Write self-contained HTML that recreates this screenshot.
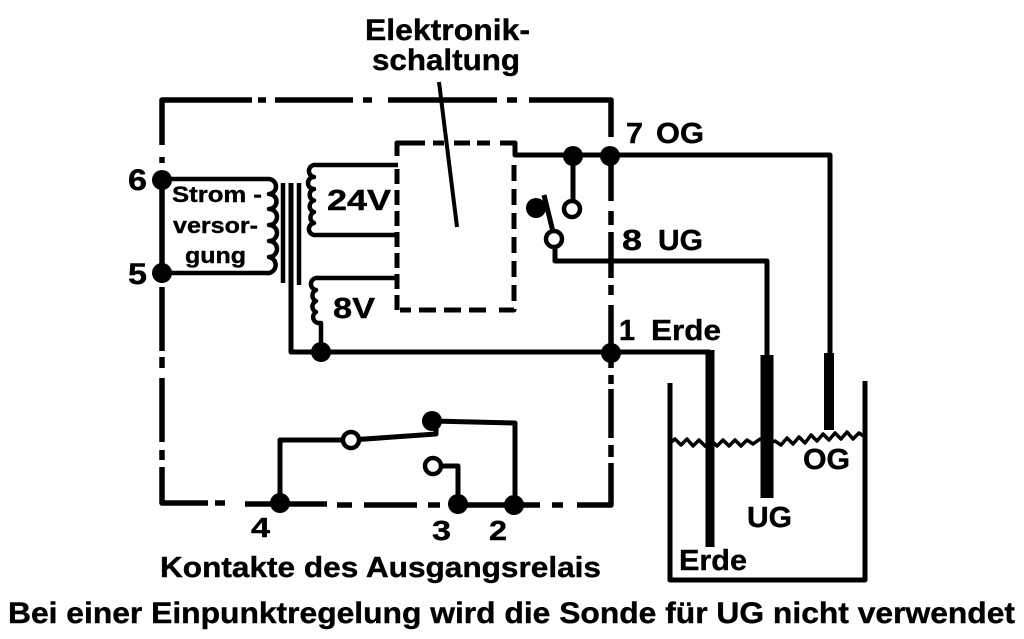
<!DOCTYPE html>
<html lang="de">
<head>
<meta charset="utf-8">
<title>Elektronikschaltung</title>
<style>
html,body{margin:0;padding:0;background:#fff;width:1024px;height:639px;overflow:hidden}
svg{display:block}
text{font-family:"Liberation Sans",sans-serif;font-weight:bold;fill:#000;stroke:#000;stroke-width:.4px}
</style>
</head>
<body>
<svg width="1024" height="639" viewBox="0 0 1024 639" xmlns="http://www.w3.org/2000/svg">
<g fill="none" stroke="#000" stroke-linecap="butt" stroke-linejoin="round">
  <!-- outer dash-dot box -->
  <g stroke-width="5.5">
    <path d="M162,145 V100 H252"/><path d="M258,100 H266"/><path d="M275,100 H353"/><path d="M363,100 H372"/>
    <path d="M388,100 H497"/><path d="M507,100 H517"/><path d="M529,100 H611 V137"/>
    <path d="M611,156 V201"/><path d="M611,211 V225"/><path d="M611,232 V278"/><path d="M611,285 V295"/><path d="M611,305 V368"/>
    <path d="M611,375 V384"/><path d="M611,389 V438"/><path d="M611,445 V457"/><path d="M611,463 V505 H577"/>
    <path d="M563,505 H552"/><path d="M540,505 H458"/><path d="M440,505 H428"/><path d="M417,505 H364"/><path d="M352,505 H337"/><path d="M327,504 H245"/><path d="M225,503 H215"/><path d="M208,503 H162 V467"/>
    <path d="M162,460 V450"/><path d="M162,442 V378"/><path d="M162,368 V357"/><path d="M162,351 V287"/>
    <path d="M162,163 V157"/>
    <path d="M162,180 V273"/>
  </g>
  <!-- pointer -->
  <path d="M439,82 L457,227" stroke-width="4"/>
  <!-- primary coil -->
  <path d="M162,179 H268 a7,7 0 0 1 1,15 a7,7 0 0 1 0,15 a7,7 0 0 1 0,16 a7,7 0 0 1 0,16 a7,7 0 0 1 0,16 a7,7 0 0 1 -3,16 H162" stroke-width="4.5"/>
  <!-- core -->
  <path d="M283,183 V283" stroke-width="4.5"/>
  <path d="M291,183 V352 H611" stroke-width="5"/>
  <path d="M299,183 V285" stroke-width="4.5"/>
  <!-- 24V coil -->
  <path d="M398,165 H316 a6,6 0 0 0 -2,12 a6,6 0 0 0 0,12 a6,6 0 0 0 0,11.500 a6,6 0 0 0 0,11.500 a6,6 0 0 0 0,11 a6,6 0 0 0 2,12 H398" stroke-width="4.500"/>
  <path d="M397,278 H318 a6,6 0 0 0 -2,12 a6,6 0 0 0 0,11 a6,6 0 0 0 0,11 a6,6 0 0 0 2,11 H321 V352" stroke-width="4.500"/>
  <!-- dashed electronics box -->
  <path d="M397,156 V143 H425 M433,143 H444 M454,143 H470 M477,143 H490 M500,143 H515 V155 H830 V353" stroke-width="5"/>
  <path d="M514,165 V310 H495" stroke-width="5" stroke-dasharray="16,8"/>
  <path d="M486,310 H400" stroke-width="5" stroke-dasharray="17,8"/>
  <path d="M397,310 V165" stroke-width="5" stroke-dasharray="15,6"/>
  <!-- changeover contact -->
  <path d="M573,156 V202" stroke-width="5"/>
  <path d="M544,195 L555,240 V261 H767 V355" stroke-width="5"/>
  <!-- Erde -->
  <path d="M611,352 H710" stroke-width="5"/>
  <path d="M710,350 V547" stroke-width="9"/>
  <!-- probes -->
  <path d="M767,355 V498" stroke-width="13"/>
  <path d="M829,353 V430" stroke-width="10"/>
  <!-- tank -->
  <path d="M670,383 V580 H865 V381" stroke-width="5"/>
  <polyline points="670,443 675,439 681,445 687,439 693,446 699,440 705,446 711,440 717,446 723,440 729,446 735,440 741,446 747,440 753,444 760,439 767,444 775,441 781,445 787,438 793,444 799,437 805,443 811,435 817,441 823,434 829,440 835,433 841,439 847,432 853,439 859,433 865,437" stroke-width="3.5"/>
  <!-- relay -->
  <path d="M280,503 V440 H351 L436,434 V421" stroke-width="5"/>
  <path d="M432,421 L515,423 V505" stroke-width="5"/>
  <path d="M433,466 H458 V504" stroke-width="5"/>
</g>
<!-- filled nodes -->
<g fill="#000">
  <circle cx="162" cy="180" r="10"/><circle cx="162" cy="273" r="10"/>
  <circle cx="321" cy="352" r="10"/><circle cx="611" cy="353" r="10"/>
  <circle cx="573" cy="156" r="10"/><circle cx="610" cy="156" r="10"/>
  <circle cx="536" cy="208" r="10"/>
  <circle cx="280" cy="503" r="10"/><circle cx="458" cy="504" r="10"/><circle cx="514" cy="505" r="10"/>
  <circle cx="432" cy="421" r="10"/>
</g>
<!-- open nodes -->
<g fill="#fff" stroke="#000" stroke-width="4.500">
  <circle cx="572" cy="209" r="8"/><circle cx="554" cy="239" r="8"/>
  <circle cx="351" cy="440" r="8"/><circle cx="433" cy="466" r="8"/>
</g>
<!-- labels -->
<text x="365" y="40" font-size="30" textLength="165" lengthAdjust="spacingAndGlyphs">Elektronik-</text>
<text x="372" y="70" font-size="30" textLength="148" lengthAdjust="spacingAndGlyphs">schaltung</text>
<text x="128" y="190" font-size="30" textLength="19" lengthAdjust="spacingAndGlyphs">6</text>
<text x="128" y="284" font-size="30" textLength="19" lengthAdjust="spacingAndGlyphs">5</text>
<text x="172" y="202" font-size="22" textLength="90" lengthAdjust="spacingAndGlyphs">Strom -</text>
<text x="173" y="233" font-size="22" textLength="85" lengthAdjust="spacingAndGlyphs">versor-</text>
<text x="185" y="263" font-size="22" textLength="61" lengthAdjust="spacingAndGlyphs">gung</text>
<text x="327" y="210" font-size="29" textLength="64" lengthAdjust="spacingAndGlyphs">24V</text>
<text x="333" y="318" font-size="29" textLength="42" lengthAdjust="spacingAndGlyphs">8V</text>
<text x="626" y="143" font-size="29" textLength="17" lengthAdjust="spacingAndGlyphs">7</text>
<text x="656" y="143" font-size="29" textLength="48" lengthAdjust="spacingAndGlyphs">OG</text>
<text x="622" y="250" font-size="29" textLength="20" lengthAdjust="spacingAndGlyphs">8</text>
<text x="658" y="250" font-size="29" textLength="45" lengthAdjust="spacingAndGlyphs">UG</text>
<text x="619" y="340" font-size="29" textLength="16" lengthAdjust="spacingAndGlyphs">1</text>
<text x="651" y="340" font-size="29" textLength="70" lengthAdjust="spacingAndGlyphs">Erde</text>
<text x="251" y="537" font-size="28" textLength="19" lengthAdjust="spacingAndGlyphs">4</text>
<text x="432" y="540" font-size="28" textLength="19" lengthAdjust="spacingAndGlyphs">3</text>
<text x="489" y="540" font-size="28" textLength="18" lengthAdjust="spacingAndGlyphs">2</text>
<text x="803" y="469" font-size="29" textLength="47" lengthAdjust="spacingAndGlyphs">OG</text>
<text x="747" y="527" font-size="29" textLength="45" lengthAdjust="spacingAndGlyphs">UG</text>
<text x="679" y="570" font-size="29" textLength="68" lengthAdjust="spacingAndGlyphs">Erde</text>
<text x="160" y="577" font-size="29" textLength="441" lengthAdjust="spacingAndGlyphs">Kontakte des Ausgangsrelais</text>
<text x="8" y="623" font-size="30" textLength="1007" lengthAdjust="spacingAndGlyphs">Bei einer Einpunktregelung wird die Sonde für UG nicht verwendet</text>
</svg>
</body>
</html>
